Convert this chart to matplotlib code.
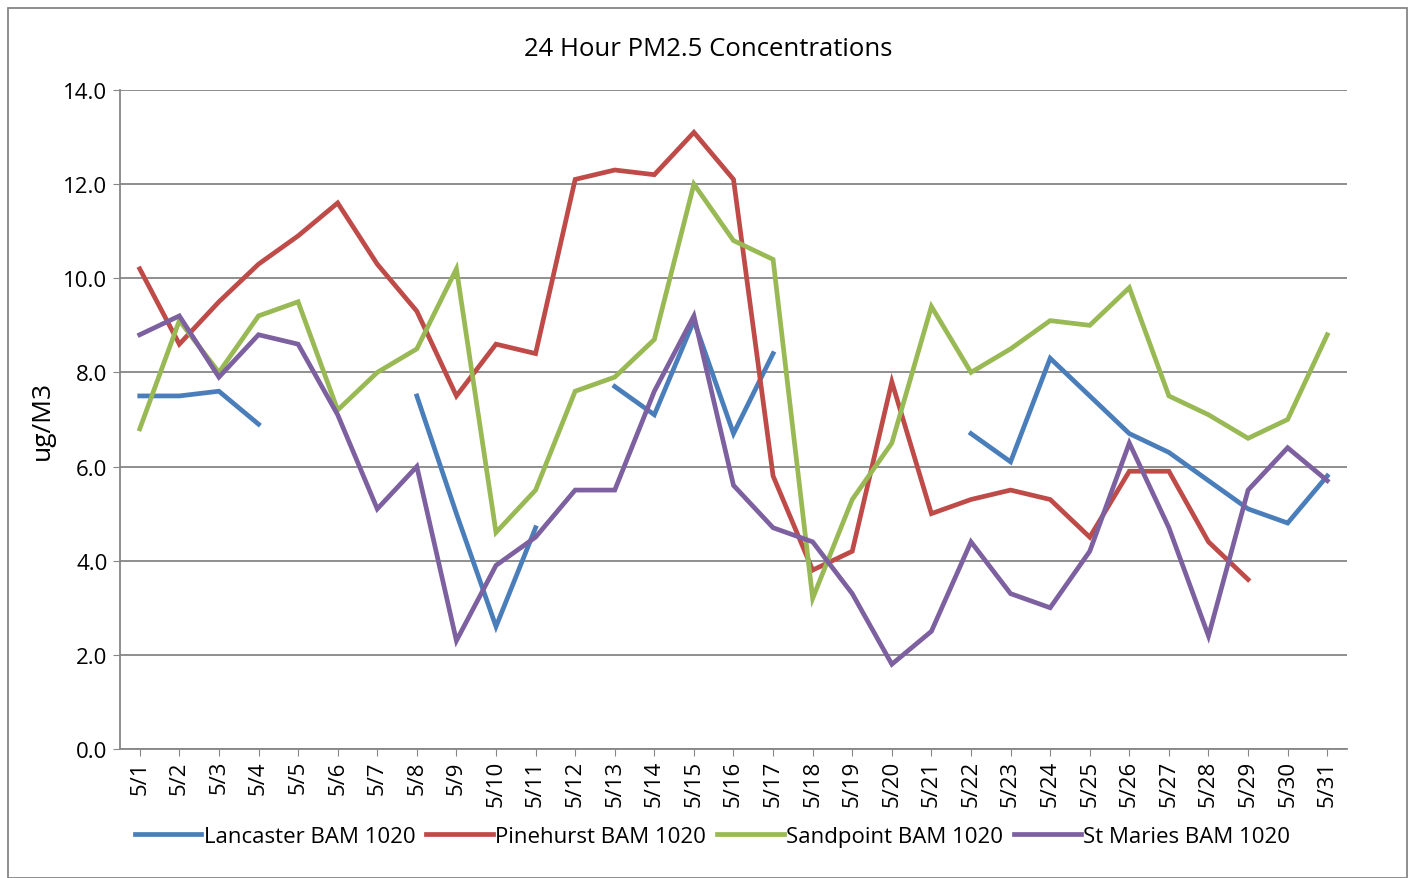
import numpy as np
import matplotlib
matplotlib.use('Agg')
import matplotlib.pyplot as plt
from matplotlib.patches import Rectangle

plt.rcParams['font.family'] = ['Open Sans', 'DejaVu Sans']

days = [f'5/{d}' for d in range(1, 32)]
nan = np.nan

lancaster = [7.5, 7.5, 7.6, 6.9, nan, nan, nan, 7.5, 5.0, 2.6,
             4.7, nan, 7.7, 7.1, 9.1, 6.7, 8.4, nan, nan, nan,
             nan, 6.7, 6.1, 8.3, 7.5, 6.7, 6.3, 5.7, 5.1, 4.8, 5.8]
pinehurst = [10.2, 8.6, 9.5, 10.3, 10.9, 11.6, 10.3, 9.3, 7.5, 8.6,
             8.4, 12.1, 12.3, 12.2, 13.1, 12.1, 5.8, 3.8, 4.2, 7.8,
             5.0, 5.3, 5.5, 5.3, 4.5, 5.9, 5.9, 4.4, 3.6, nan, nan]
sandpoint = [6.8, 9.1, 8.0, 9.2, 9.5, 7.2, 8.0, 8.5, 10.2, 4.6,
             5.5, 7.6, 7.9, 8.7, 12.0, 10.8, 10.4, 3.2, 5.3, 6.5,
             9.4, 8.0, 8.5, 9.1, 9.0, 9.8, 7.5, 7.1, 6.6, 7.0, 8.8]
st_maries = [8.8, 9.2, 7.9, 8.8, 8.6, 7.1, 5.1, 6.0, 2.3, 3.9,
             4.5, 5.5, 5.5, 7.6, 9.2, 5.6, 4.7, 4.4, 3.3, 1.8,
             2.5, 4.4, 3.3, 3.0, 4.2, 6.5, 4.7, 2.4, 5.5, 6.4, 5.7]

series = [
    ('Lancaster BAM 1020', lancaster, '#4a7ebb'),
    ('Pinehurst BAM 1020', pinehurst, '#be4b48'),
    ('Sandpoint BAM 1020', sandpoint, '#98b954'),
    ('St Maries BAM 1020', st_maries, '#7d60a0'),
]

fig = plt.figure(figsize=(14.08, 8.79), dpi=100)
ax = fig.add_axes([0.0852, 0.1468, 0.8715, 0.7497])

x = np.arange(len(days))
for name, vals, col in series:
    ax.plot(x, vals, color=col, lw=3.4, label=name, solid_joinstyle='miter')

ax.set_xlim(-0.5, len(days) - 0.5)
ax.set_ylim(0, 14)
ax.set_yticks(np.arange(0, 14.1, 2))
ax.set_yticklabels([f'{v:.1f}' for v in np.arange(0, 14.1, 2)], fontsize=16)
ax.set_xticks(x)
ax.set_xticklabels(days, rotation=90, fontsize=16)
ax.yaxis.grid(True, color='#868686', lw=1.3)
ax.set_axisbelow(True)
for s in ['top', 'right']:
    ax.spines[s].set_visible(False)
for s in ['left', 'bottom']:
    ax.spines[s].set_color('#868686')
    ax.spines[s].set_linewidth(1.3)
ax.tick_params(axis='y', length=5, color='#868686', pad=4)
ax.tick_params(axis='x', length=5, color='#868686', pad=3)

ax.set_ylabel('ug/M3', fontsize=19, labelpad=6)
fig.text(0.503, 0.944, '24 Hour PM2.5 Concentrations', ha='center', va='center', fontsize=18.5)

fig.legend(loc='center', bbox_to_anchor=(0.506, 0.047), ncol=4, frameon=False,
           fontsize=16, handlelength=3.0, handletextpad=0.1, columnspacing=0.5)

fig.patches.append(Rectangle((0.006, 0.0), 0.993, 0.99, transform=fig.transFigure,
                             fill=False, edgecolor='#868686', lw=1.3))

fig.savefig('out.png', dpi=100)
